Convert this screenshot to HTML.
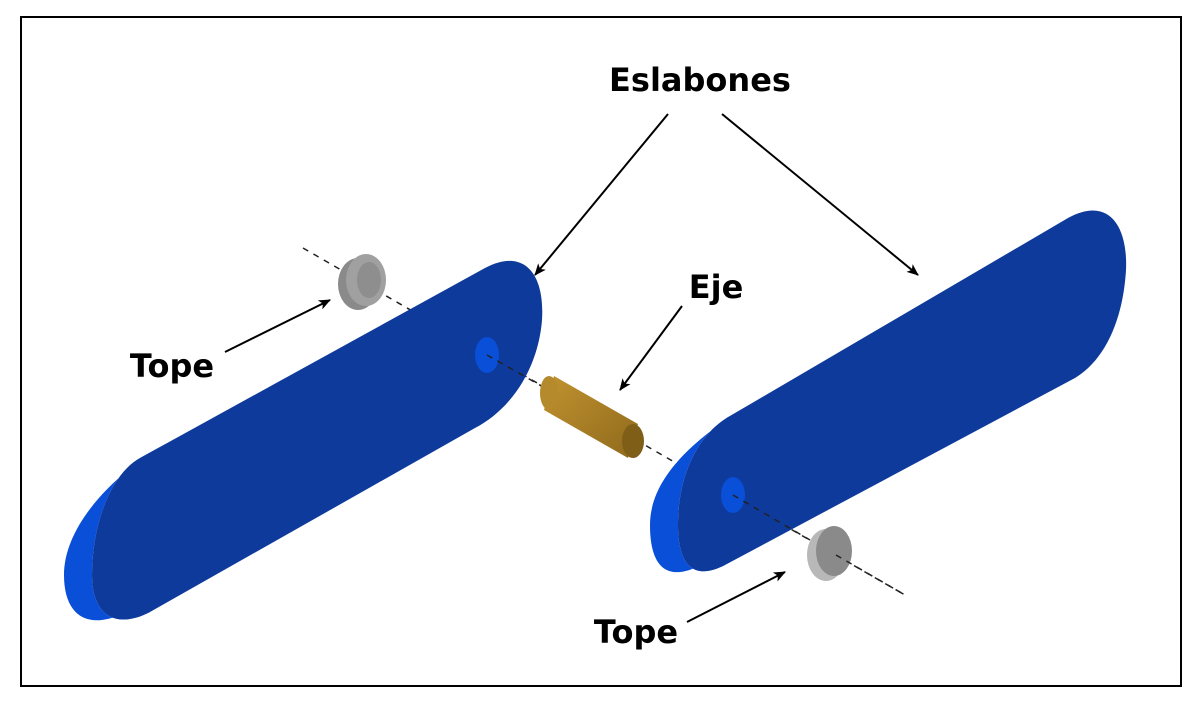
<!DOCTYPE html>
<html><head><meta charset="utf-8"><style>
html,body{margin:0;padding:0;background:#fff;}
svg{display:block;}
text{font-family:"DejaVu Sans","Liberation Sans",sans-serif;font-weight:bold;fill:#000;}
</style></head><body>
<svg width="1199" height="704" viewBox="0 0 1199 704">
<defs>
<marker id="ah" markerWidth="12" markerHeight="10" refX="11" refY="5" orient="auto" markerUnits="userSpaceOnUse">
<path d="M0,0 L12,5 L0,10 L3,5 Z" fill="#000"/></marker>
<linearGradient id="gold" x1="0" y1="0" x2="1" y2="1"><stop offset="0" stop-color="#c1922f"/><stop offset="1" stop-color="#8f6a1c"/></linearGradient>
</defs>
<rect x="21" y="17" width="1160" height="669" fill="#fff" stroke="#000" stroke-width="2"/>

<line x1="303" y1="248" x2="905" y2="595" stroke="#222" stroke-width="1.5" stroke-dasharray="6,6"/>

<g>
<ellipse cx="358" cy="284" rx="20" ry="26" fill="#8a8a8a"/>
<ellipse cx="366" cy="280" rx="20" ry="26" fill="#a0a0a0"/>
<ellipse cx="369" cy="280" rx="12" ry="18" fill="#8e8e8e"/>
</g>

<g>
<path d="M180,436 C115,470 64,525 64,575 C64,615 87,630 122,614 L150,612 C115,630 92,615 92,575 C92,525 110,475 140,458 Z" fill="#0a4fd8"/>
<path d="M140,458 L485,268 C525,247 545,275 542,320 C538,370 510,410 475,428 L150,612 C115,630 92,615 92,575 C92,525 110,475 140,458 Z" fill="#0e3a9c"/>
<ellipse cx="487" cy="355" rx="12" ry="18" fill="#0a4fd8"/>
</g>
<line x1="487" y1="355" x2="545" y2="388" stroke="#222" stroke-width="1.5" stroke-dasharray="6,6"/>

<g>
<path d="M 554 376 L 638 424 L 628 458 L 544 410 Z" fill="url(#gold)"/>
<ellipse cx="549" cy="393" rx="9" ry="17" fill="#b48a2c"/>
<ellipse cx="633" cy="441" rx="11" ry="17" fill="#7f5e18"/>
</g>

<g>
<path d="M768,394 C700,432 650,475 650,525 C650,560 662,583 697,567 L725,565 C690,583 678,560 678,525 C678,475 698,434 730,416 Z" fill="#0a4fd8"/>
<path d="M730,416 L1068,218 C1108,196 1128,225 1126,270 C1123,320 1105,360 1075,378 L725,565 C690,583 678,560 678,525 C678,475 698,434 730,416 Z" fill="#0e3a9c"/>
<ellipse cx="733" cy="495" rx="12" ry="18" fill="#0a4fd8"/>
</g>
<line x1="733" y1="495" x2="810" y2="540" stroke="#222" stroke-width="1.5" stroke-dasharray="6,6"/>

<g>
<ellipse cx="826" cy="555" rx="19" ry="26" fill="#b8b8b8"/>
<ellipse cx="834" cy="551" rx="18" ry="25" fill="#8a8a8a"/>
</g>
<line x1="836" y1="555" x2="905" y2="595" stroke="#222" stroke-width="1.5" stroke-dasharray="6,6"/>

<g stroke="#000" stroke-width="2" fill="none" marker-end="url(#ah)">
<line x1="668" y1="114" x2="535" y2="275"/>
<line x1="722" y1="114" x2="918" y2="275"/>
<line x1="682" y1="306" x2="620" y2="390"/>
<line x1="225" y1="352" x2="330" y2="300"/>
<line x1="687" y1="622" x2="785" y2="572"/>
</g>

<text x="700" y="91" font-size="32" text-anchor="middle">Eslabones</text>
<text x="716" y="298" font-size="32" text-anchor="middle">Eje</text>
<text x="172" y="377" font-size="32" text-anchor="middle">Tope</text>
<text x="636" y="643" font-size="32" text-anchor="middle">Tope</text>
</svg>
</body></html>
